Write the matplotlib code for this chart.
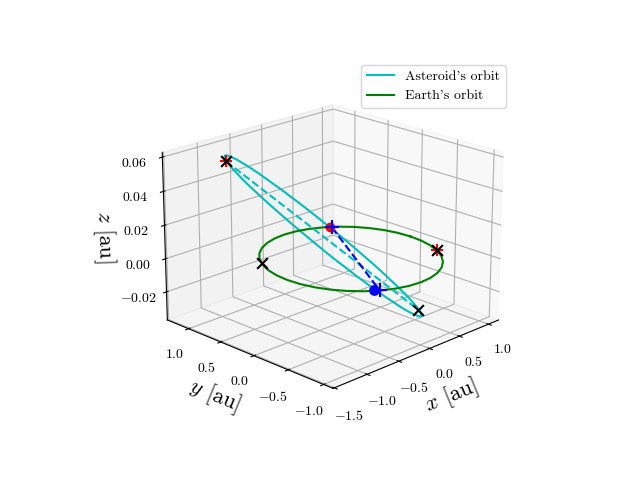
import matplotlib
matplotlib.use('Agg')
import matplotlib.pyplot as plt

plt.rcParams['font.family'] = ['cmr10', 'DejaVu Sans']
plt.rcParams['mathtext.fontset'] = 'cm'
plt.rcParams['axes.formatter.use_mathtext'] = True

# Asteroid's orbit
ast_x = [0.496, 0.594, 0.679, 0.749, 0.803, 0.84, 0.86, 0.862, 0.846, 0.812, 0.761, 0.694,
         0.612, 0.517, 0.409, 0.292, 0.166, 0.034, -0.102, -0.239, -0.375, -0.507, -0.635, -0.754,
         -0.864, -0.962, -1.047, -1.117, -1.171, -1.208, -1.228, -1.229, -1.213, -1.179, -1.129, -1.062,
         -0.98, -0.884, -0.777, -0.659, -0.533, -0.401, -0.266, -0.129, 0.007, 0.14, 0.267, 0.387, 0.496]
ast_y = [-0.604, -0.511, -0.406, -0.29, -0.165, -0.034, 0.102, 0.239, 0.377, 0.512, 0.642, 0.765,
         0.878, 0.98, 1.07, 1.145, 1.204, 1.246, 1.271, 1.278, 1.267, 1.238, 1.192, 1.129,
         1.05, 0.958, 0.853, 0.737, 0.612, 0.481, 0.345, 0.207, 0.07, -0.065, -0.195, -0.318,
         -0.431, -0.534, -0.623, -0.698, -0.757, -0.799, -0.824, -0.831, -0.82, -0.791, -0.745, -0.682, -0.604]
ast_z = [-0.0328, -0.0342, -0.0348, -0.0346, -0.0335, -0.0317, -0.0292, -0.0259, -0.0219, -0.0175, -0.0124, -0.007,
         -0.0013, 0.0047, 0.0109, 0.0169, 0.023, 0.0288, 0.0345, 0.0397, 0.0444, 0.0486, 0.0521, 0.055,
         0.0572, 0.0585, 0.059, 0.0588, 0.0578, 0.056, 0.0534, 0.0502, 0.0463, 0.0418, 0.0368, 0.0314,
         0.0256, 0.0195, 0.0135, 0.0073, 0.0013, -0.0046, -0.0101, -0.0154, -0.0201, -0.0242, -0.0278, -0.0307, -0.0328]

# Earth's orbit
earth_x = [1.0, 0.985, 0.94, 0.866, 0.766, 0.643, 0.5, 0.342, 0.174, 0.0, -0.174, -0.342, -0.5,
           -0.643, -0.766, -0.866, -0.94, -0.985, -1.0, -0.985, -0.94, -0.866, -0.766, -0.643, -0.5,
           -0.342, -0.174, 0.0, 0.174, 0.342, 0.5, 0.643, 0.766, 0.866, 0.94, 0.985, 1.0]
earth_y = [0.0, 0.174, 0.342, 0.5, 0.643, 0.766, 0.866, 0.94, 0.985, 1.0, 0.985, 0.94, 0.866,
           0.766, 0.643, 0.5, 0.342, 0.174, 0.0, -0.174, -0.342, -0.5, -0.643, -0.766, -0.866,
           -0.94, -0.985, -1.0, -0.985, -0.94, -0.866, -0.766, -0.643, -0.5, -0.342, -0.174, 0.0]
earth_z = [0.0] * 37

# apsides and nodes
ast_aph = [-1.115, 0.78, 0.0599]
ast_per = [0.63, -0.437, -0.0338]
earth_left = [-0.845, 0.527, 0.0]
earth_right = [0.87, -0.495, 0.0]
node_far = [0.569, 0.796, 0.0]
node_near = [-0.505, -0.863, 0.0]
earth_far = [0.552, 0.812, 0.0]
earth_near = [-0.549, -0.822, 0.0]

x_ticks = [-1.5, -1.0, -0.5, 0.0, 0.5, 1.0]
y_ticks = [-1.0, -0.5, 0.0, 0.5, 1.0]
z_ticks = [-0.02, 0.0, 0.02, 0.04, 0.06]


def line(ax, a, b, color):
    ax.plot([a[0], b[0]], [a[1], b[1]], [a[2], b[2]], color + '--')


def mark(ax, p, color, marker, size, lw=1.5):
    ax.scatter([p[0]], [p[1]], [p[2]], c=color, marker=marker, s=size, linewidths=lw, depthshade=False)


fig = plt.figure()
ax = fig.add_subplot(projection='3d')
ax.view_init(elev=20, azim=-135)

ax.plot(ast_x, ast_y, ast_z, 'c', label="Asteroid's orbit")
ax.plot(earth_x, earth_y, earth_z, 'g', label="Earth's orbit")
line(ax, ast_aph, ast_per, 'c')
line(ax, node_far, node_near, 'b')

mark(ax, earth_far, 'r', 'o', 50, 0)
mark(ax, earth_near, 'b', 'o', 60, 0)
mark(ax, node_far, 'b', '+', 110)
mark(ax, node_near, 'b', '+', 110)
mark(ax, ast_aph, 'r', '+', 70)
mark(ax, earth_right, 'r', '+', 70)
for p in [ast_aph, ast_per, earth_left, earth_right]:
    mark(ax, p, 'k', 'x', 60)

ax.set_xlim(-1.52, 1.18)
ax.set_ylim(-1.13, 1.34)
ax.set_zlim(-0.0372, 0.0628)
ax.set_xticks(x_ticks)
ax.set_yticks(y_ticks)
ax.set_zticks(z_ticks)
ax.set_xlabel('$x$ [au]', fontsize=16)
ax.set_ylabel('$y$ [au]', fontsize=16)
ax.set_zlabel('$z$ [au]', fontsize=16)
ax.legend(loc='upper right')

fig.savefig('out.png')
